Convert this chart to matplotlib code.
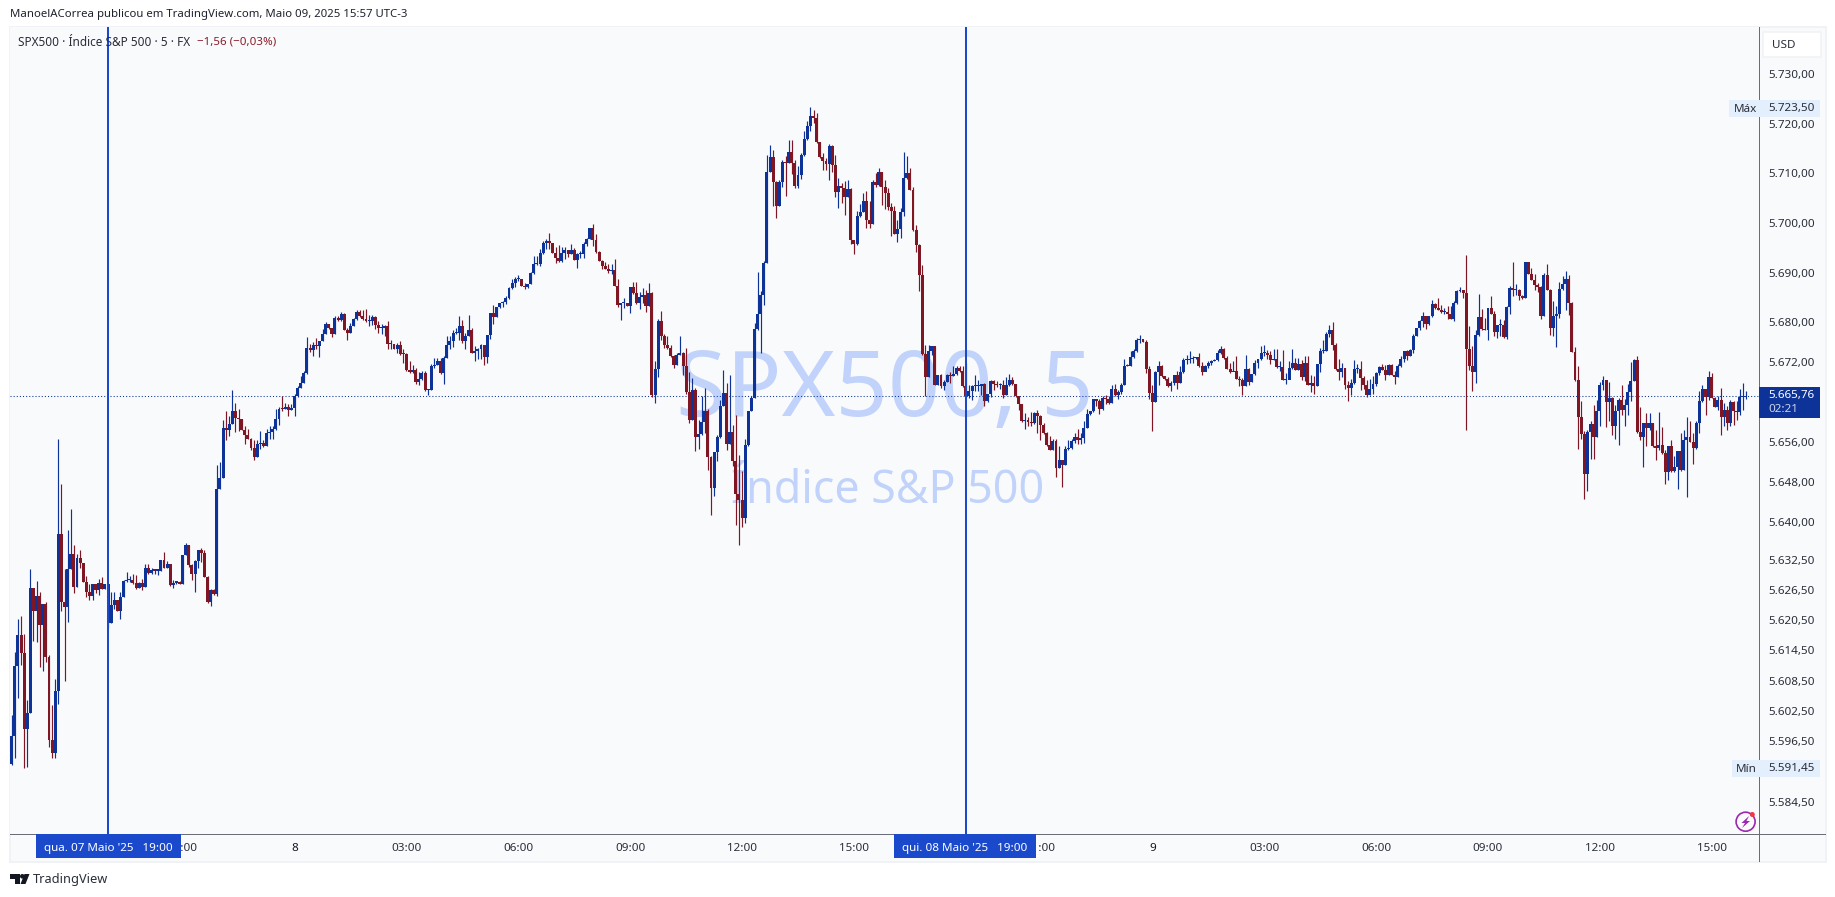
import matplotlib
matplotlib.use("Agg")
import matplotlib.pyplot as plt
from matplotlib.patches import Rectangle, FancyBboxPatch, Polygon, Ellipse
from matplotlib.ticker import NullLocator
import numpy as np

plt.rcParams["font.family"] = ["Noto Sans", "DejaVu Sans"]

# Fechamentos de cada vela de 5 minutos
closes = [
    5597.7,5611.7,5617.9,5614.4,5599.2,5602.4,5627.3,5622.8,5625.7,5620,
    5624.1,5613.6,5596.9,5594.4,5606.7,5638.2,5624.6,5623.6,5631.1,5634.1,
    5627.6,5633.3,5632.4,5628.5,5626.6,5625.8,5628.1,5626.9,5628.4,5627.2,
    5628.1,5620.4,5623.9,5625,5622.8,5625.6,5628.7,5628.9,5628.9,5628.4,
    5627.4,5628.4,5627.5,5631.3,5630.4,5630.9,5630.8,5630.8,5632.9,5631.4,
    5632.1,5627.9,5628.4,5628.6,5628.2,5634,5635.9,5631.9,5630.1,5632.8,
    5634.9,5634.4,5629.6,5624.6,5626.9,5626.2,5647.1,5649.2,5659.3,5658.9,
    5660.1,5662.7,5661.2,5661.1,5658.9,5657.9,5657,5655.3,5653.5,5656.1,
    5656.2,5655.7,5658.2,5658.5,5659,5661,5663.1,5663,5663.4,5662.9,
    5663.3,5665.6,5667.3,5668.3,5670.3,5675.3,5674.9,5675.9,5675.6,5676.7,
    5678.1,5680.1,5679.2,5678.1,5681.3,5680.8,5682.1,5678.8,5678.2,5679.7,
    5681.1,5682.5,5681.6,5681.1,5680.6,5680.7,5681.5,5679.9,5679.2,5679.3,
    5679.7,5676,5676,5675.1,5675.9,5674.1,5674,5670.8,5670.4,5670.9,
    5668.4,5669,5670.3,5666.8,5666.9,5671.7,5671.8,5672.6,5670.2,5673.2,
    5675.9,5676.7,5678.3,5678.3,5679.7,5676.7,5677.7,5678.9,5674.3,5674.6,
    5675,5675.8,5673.5,5677.9,5682.3,5681.5,5683.4,5684.2,5684.4,5685.3,
    5687.3,5688.3,5689,5689,5687.6,5687.4,5688.1,5690.3,5692.1,5692.1,
    5694.3,5696.3,5696.7,5696.2,5694.3,5693.3,5692.6,5694.3,5694.9,5694.1,
    5694.9,5692.9,5694.1,5694.1,5696.1,5697.1,5699.3,5696.9,5694.5,5692.7,
    5691.7,5691.1,5690.7,5690.9,5687.7,5683.9,5684.2,5684.2,5683.7,5687.5,
    5686.3,5684.3,5685.5,5685.9,5683.7,5686.3,5665.9,5671,5680.7,5677.6,
    5675.9,5675.2,5673.6,5671.8,5673.9,5674.2,5671.6,5666.4,5660.9,5666.9,
    5657.4,5658,5660.5,5662.7,5653.4,5647.4,5654.4,5657.4,5663.7,5666.2,
    5656,5658.4,5652.6,5646.2,5644.9,5641.3,5655.9,5662.7,5665.2,5679,
    5682.1,5685.8,5692.2,5710.5,5713.5,5708.4,5703.6,5708.5,5712.4,5712.3,
    5714.5,5712.2,5707.7,5709.9,5713.8,5717,5719.7,5721.6,5721.2,5716.4,
    5713.4,5712.7,5712.1,5715.7,5711.9,5706.4,5707.7,5707.2,5705.4,5707.1,
    5696.8,5696.1,5701.6,5702.4,5704.7,5700.8,5700.1,5708.4,5707.9,5710.5,
    5707.4,5706.2,5703.4,5702.6,5698.1,5699,5702.5,5709.2,5710.2,5706.9,
    5698.9,5695.8,5689.8,5674,5669.4,5674.6,5675.6,5667.9,5669.8,5667.6,
    5668.5,5669.9,5669.7,5670,5671.3,5670.6,5667.6,5665.6,5666.7,5667.7,
    5667.7,5667.7,5668.1,5664.6,5666.1,5668.7,5668,5667.8,5667.9,5665.9,
    5667.8,5668.9,5668,5665.6,5664,5660.6,5660.8,5660.4,5660.2,5662.2,
    5661.6,5659.9,5658.2,5655.8,5654.9,5656.7,5651.2,5652.9,5651.8,5655,
    5655.3,5656.7,5657.5,5656.9,5657.2,5659.3,5662.1,5662.6,5665.1,5664.7,
    5663,5665.3,5665.1,5664.2,5667.1,5665.9,5666.4,5667.9,5671.7,5671.6,
    5673.4,5674.7,5676.9,5677,5676.5,5671.1,5666.2,5664.5,5670.4,5671.7,
    5669.6,5669,5667.6,5668.2,5669.8,5668.2,5670.4,5672.8,5672.9,5673,
    5673.2,5673.4,5671.6,5670.4,5671.7,5672.2,5672.7,5672.9,5674.2,5675.1,
    5673.2,5671.1,5670.4,5670.7,5669.1,5668.9,5667.6,5671,5668.4,5670,
    5672.2,5673,5674.2,5674.3,5673.8,5672.9,5673.1,5671.4,5671.4,5668.9,
    5668.9,5671.2,5672.2,5670.9,5672.1,5669.4,5672.2,5667.8,5668.2,5667.6,
    5672,5674.7,5674.7,5678.1,5678.9,5675.9,5671.1,5670.4,5671.2,5667.9,
    5667.2,5668.2,5671,5671,5669.3,5667.9,5665.9,5667.1,5668.1,5670.3,
    5671.5,5670.9,5669.9,5671.9,5669.9,5669.5,5671.7,5673.1,5674.7,5673.7,
    5674.9,5677.7,5679.3,5680.7,5681.7,5680.1,5681.7,5684.1,5683.3,5682.9,
    5682.5,5682.5,5682.1,5681.1,5684.3,5686.7,5686.8,5686.2,5675.1,5671.6,
    5670.5,5677.9,5681.5,5679.1,5678.9,5683.3,5682.1,5678.5,5679.9,5679.9,
    5677.5,5683.5,5687.3,5686.9,5686.9,5685.7,5685.3,5692.4,5690.1,5688.9,
    5687.9,5687.4,5681.7,5689.9,5686.9,5679.3,5681.7,5682.1,5687.1,5688.1,
    5689.1,5684.3,5674.5,5668.9,5661.5,5658.1,5650.1,5658.5,5660.1,5657.5,
    5662.7,5667.9,5668.9,5664.4,5665.2,5659.6,5662.7,5664.9,5662.9,5663.9,
    5666.5,5668.7,5672.9,5658.4,5657.4,5660.3,5659.3,5660.3,5655.6,5655.2,
    5655.9,5654.3,5650.5,5655.7,5650.7,5651.5,5654.7,5650.9,5656.9,5657.5,
    5656.5,5655.3,5660.3,5664.7,5667.1,5665.5,5669.5,5665.3,5663.5,5664.9,
    5661.5,5662.9,5660.3,5664.5,5662.7,5662.5,5665.5,5665.5,5665.76,
]

highs = [
    5601.9,5614.6,5621.1,5621.7,5618.1,5604.9,5631.2,5627.3,5628.7,5626.5,
    5624.1,5624.5,5613.9,5603.9,5609.2,5657.1,5648.1,5631.2,5638.9,5643.1,
    5635.9,5634.2,5635,5632.4,5629.7,5628.1,5628.1,5628.2,5629.2,5629.6,
    5628.1,5628.1,5626.5,5626.5,5625,5626.5,5628.9,5630.5,5629.8,5630.1,
    5629.9,5628.5,5629.2,5632.1,5632.2,5631.3,5631.2,5631.2,5632.9,5634.5,
    5632.8,5632.1,5629,5628.6,5628.8,5634,5636.4,5635.9,5632.1,5632.9,
    5635,5635.4,5635,5629.7,5627.2,5627.2,5651.9,5652.4,5660.9,5662.7,
    5661.7,5666.9,5664.3,5663.1,5661.1,5659.7,5659,5657.3,5656.8,5656.9,
    5658.7,5656.9,5659,5659.7,5659.7,5663.1,5663.4,5665.7,5664.2,5664.1,
    5664.1,5666.1,5667.7,5669.7,5670.7,5677.5,5676.1,5676.4,5677.3,5676.7,
    5679.1,5680.4,5680.1,5679.2,5681.7,5681.7,5682.4,5682.2,5679.2,5680.3,
    5681.2,5682.9,5682.9,5682.9,5683.1,5681.9,5681.9,5681.6,5680.6,5680.1,
    5679.8,5680.7,5676.9,5676.1,5676.2,5676.7,5675.1,5674.2,5672.6,5671.9,
    5671.2,5670.4,5670.6,5670.6,5667,5672,5673.2,5673.2,5673.2,5673.7,
    5677.7,5677.7,5678.9,5679.3,5681.7,5680.9,5678.2,5681.9,5679.3,5675.7,
    5675.2,5676,5675.8,5677.9,5682.3,5683.9,5683.4,5684.3,5684.7,5685.7,
    5687.5,5689.1,5689.4,5689.9,5689,5688.2,5688.1,5690.5,5693.6,5693.6,
    5695,5696.6,5697.1,5698.3,5696.3,5695.5,5695.9,5695.5,5695.5,5694.9,
    5696.1,5695.2,5694.2,5694.6,5696.5,5697.2,5699.3,5700.1,5698.1,5694.7,
    5692.9,5692.5,5692.1,5692.1,5693.1,5689.1,5684.2,5685.3,5684.3,5687.5,
    5688.5,5688.5,5686.5,5687.3,5686.9,5688.3,5686.5,5672.6,5681,5682.7,
    5678,5677.6,5675.9,5673.8,5674.2,5677.7,5674.4,5675.2,5670.5,5669.2,
    5667.2,5660.9,5665.6,5667.2,5663.1,5653.6,5654.4,5657.9,5664.9,5670.9,
    5668.2,5669.9,5659.8,5661.9,5653.9,5650.6,5657,5662.7,5665.6,5680.2,
    5690.4,5686.6,5692.7,5713.9,5715.9,5714.9,5708.6,5708.9,5712.9,5713.6,
    5716.9,5716.9,5712.9,5711.7,5714.2,5718.6,5720.6,5723.5,5722.9,5722.2,
    5716.5,5714.2,5713.2,5716.1,5715.9,5713.8,5709.2,5708.2,5708.6,5708.8,
    5707.2,5696.8,5702.6,5704.1,5706.2,5706.6,5704.6,5708.9,5710.2,5711.2,
    5710.5,5708.9,5707.2,5704.2,5703.6,5700.9,5703.2,5714.4,5713.7,5711.2,
    5707.4,5699.9,5696.1,5691.9,5675.9,5675.9,5675.7,5675.7,5669.9,5670,
    5668.9,5670.1,5670.4,5671.7,5671.7,5671.7,5671.6,5672.2,5667.9,5667.9,
    5669.9,5668.9,5668.1,5668.2,5666.1,5668.9,5668.9,5668.6,5668.2,5668.9,
    5669.4,5670.1,5669.4,5668.1,5665.7,5664.1,5662.2,5661.4,5662.5,5662.5,
    5662.8,5661.9,5660.2,5658.4,5657.7,5657,5657,5655.6,5652.9,5655.7,
    5656.9,5657,5658.2,5659.1,5658.2,5660.6,5663,5662.6,5665.1,5665.1,
    5665,5665.7,5665.9,5665.7,5667.8,5668,5666.9,5668.2,5673.1,5672.1,
    5674.6,5675,5677.2,5677.9,5676.9,5676.9,5671.7,5667.9,5670.6,5672.6,
    5671.9,5669.7,5669.4,5668.6,5669.9,5670.6,5671.7,5673.2,5673.8,5674.7,
    5673.7,5673.4,5674.2,5672.4,5671.9,5672.7,5672.8,5673.1,5674.9,5675.6,
    5675.2,5673.6,5672.2,5672.6,5673.7,5669.7,5669.2,5673.9,5671.2,5670,
    5672.9,5673,5675.7,5675.9,5674.9,5674.6,5675,5675,5672.6,5674.9,
    5670.2,5672.6,5675,5673.2,5673.2,5672.9,5673.7,5673.7,5669.9,5669.7,
    5672,5675.2,5676.9,5678.4,5679.9,5680.5,5676.2,5673.1,5672.2,5671.2,
    5668.7,5669,5672.9,5672.1,5672.6,5669.7,5668.9,5669.1,5669.6,5670.4,
    5671.7,5672.1,5671.9,5672.1,5672,5670.6,5672.1,5673.7,5674.7,5674.9,
    5675.1,5678.1,5679.3,5680.9,5682.5,5681.7,5681.7,5684.9,5684.2,5685.3,
    5683.9,5683.2,5683.7,5683.6,5684.6,5686.9,5687.5,5686.9,5693.9,5679.7,
    5675.7,5678.9,5686.1,5683,5681.3,5683.3,5685.7,5682.6,5679.9,5681.1,
    5680.9,5683.7,5687.6,5692.5,5688.1,5687,5685.9,5692.5,5692.4,5691.2,
    5690.1,5688.2,5687.6,5690.2,5692.1,5687.1,5684.7,5683.7,5688.4,5689.7,
    5690.7,5689.9,5684.5,5675.4,5671.6,5664.7,5658.7,5658.9,5660.7,5663.9,
    5664.9,5668.4,5669.7,5668.9,5668.5,5665.4,5663.8,5665.2,5667.9,5665,
    5668,5672.5,5673.1,5673.7,5663.5,5660.3,5662.3,5662.3,5660.3,5658.9,
    5662.5,5659.5,5654.9,5655.7,5656.9,5653.7,5654.7,5658.3,5658.9,5661.5,
    5660.7,5658.3,5660.7,5666.6,5667.9,5667.1,5670.7,5670.3,5665.5,5665.6,
    5667.3,5664.2,5663.7,5664.8,5664.7,5664.6,5667,5668.3,5666.7,
]

lows = [
    5591.9,5593.4,5605.4,5612,5591.4,5591.6,5602.4,5616.7,5616.6,5611.6,
    5610.8,5612.6,5595.6,5593.4,5593.4,5604.2,5622.8,5608.7,5620.6,5631.1,
    5626.4,5627.6,5631.4,5628.5,5625.6,5624.9,5624.9,5626.4,5625.9,5627.2,
    5627.2,5619.4,5620.4,5623.2,5622.8,5621.1,5625.6,5628.6,5628.6,5628.2,
    5627.2,5627.4,5626.9,5627.5,5630.2,5630.2,5630.1,5629.9,5630.8,5631.4,
    5631.4,5627.7,5627.4,5628.2,5628.2,5628.2,5634,5631.6,5629,5626.6,
    5631.3,5632.6,5629.6,5624.4,5623.7,5625.9,5625.8,5647.1,5649.2,5656.9,
    5657.7,5660.1,5658.4,5658.7,5658.8,5656.1,5657,5654.8,5652.9,5653.5,
    5655.1,5655.4,5655.7,5657,5657,5658.9,5659.9,5662.7,5663,5661.7,
    5662.8,5661.7,5665.5,5667.3,5668.3,5670.1,5674.4,5673.7,5675,5673.4,
    5676.7,5678,5679.1,5677.4,5678.1,5680.7,5680.6,5678.8,5676.9,5678.2,
    5679.6,5680.8,5681.4,5680.9,5680.4,5679.7,5679.9,5679.1,5678.2,5678.1,
    5677.6,5675.1,5675.1,5675,5674.2,5673.9,5672.3,5670.6,5670.3,5670.2,
    5668.1,5667.8,5668.9,5666.7,5665.8,5666.9,5671.2,5671.8,5670.1,5668.1,
    5673.2,5675.1,5675.5,5678.1,5676.9,5676.3,5675.1,5677.6,5674.2,5672.7,
    5673.1,5673.1,5671.9,5672.3,5677.1,5680.1,5681.5,5683.2,5683.4,5684.1,
    5685.1,5687.1,5687.4,5688.6,5687.6,5687.1,5687.3,5688,5690.1,5691.9,
    5691.6,5694.1,5695.1,5695.1,5694.2,5692.3,5692.5,5692.5,5693.1,5693.4,
    5694.1,5692.9,5691.3,5693.2,5693.3,5695.6,5697,5695.6,5694.3,5692.6,
    5691.1,5691,5690.2,5690.1,5687.7,5683.4,5680.9,5683.2,5683.6,5682.3,
    5686.1,5684.1,5683.1,5684.2,5682.5,5683.7,5665.4,5664.2,5669.4,5676.8,
    5675.2,5675,5673.4,5671.2,5671.8,5673.9,5669.9,5666.1,5660.2,5660.9,
    5654.6,5655,5657.9,5658.2,5650.8,5642,5645.8,5652.6,5657.2,5663.6,
    5654.9,5656,5651.7,5639.9,5636,5639.6,5640.4,5655.7,5662.6,5665.2,
    5678.9,5674.2,5683.9,5692.2,5710.4,5703.6,5701.2,5703.6,5707.4,5705.7,
    5712.3,5710,5707.2,5707.2,5709,5713.7,5716.9,5718.6,5720.2,5716.2,
    5713.2,5710.8,5710.9,5708.9,5710.4,5705.4,5703.2,5704.2,5701.8,5705.4,
    5696.1,5694.1,5695.9,5701.4,5702.4,5699.2,5699.2,5700.1,5707.4,5707.6,
    5703.9,5703,5702.9,5697.6,5698.1,5696.4,5697.2,5701.6,5709.1,5706.9,
    5698.6,5694.4,5686.7,5673.9,5665.6,5669.4,5673.8,5667.9,5667.9,5667.2,
    5666.9,5668.5,5668.2,5669.7,5669.9,5670.4,5667.4,5665.4,5665.2,5664.9,
    5666.6,5666.7,5665.9,5663.7,5664.4,5665.4,5666.8,5667.4,5667.1,5665.2,
    5665.9,5667.6,5667.8,5665.4,5662.8,5660.4,5659.1,5659.7,5659.7,5660.1,
    5658.2,5656.8,5658,5655.7,5654.8,5654.8,5649.5,5651.2,5647.6,5651.8,
    5654.9,5655.1,5656.2,5656.1,5656.1,5656.2,5659.2,5661.9,5662.5,5663.6,
    5662.1,5662.9,5664.1,5664.1,5664.2,5665.7,5665.1,5666.1,5667.8,5671.6,
    5671.6,5673.2,5674.5,5676.2,5676.5,5670.2,5665.1,5658.7,5664.5,5667.8,
    5669.4,5668.8,5667.4,5666.6,5667.8,5667.1,5668.2,5670.2,5672.1,5672.2,
    5672.2,5673,5671.4,5669.9,5670.6,5671.2,5671.8,5672.6,5672.6,5674.1,
    5673,5671,5670.2,5670.7,5669,5667.7,5665.8,5667.6,5667.9,5668.4,
    5669.9,5671.2,5672.8,5673.6,5673.1,5672,5672.9,5671.2,5670.7,5668.8,
    5668.1,5669.1,5671.1,5670.9,5670.9,5668.8,5668.6,5667.8,5666.4,5666,
    5667.6,5670.4,5674.2,5674.6,5677.4,5674.9,5670.9,5668.9,5669.4,5667.1,
    5664.7,5665.8,5668.1,5670.2,5666.9,5667,5665.4,5665.9,5666.1,5667.7,
    5669.9,5670.8,5668.9,5669.9,5669.8,5668.1,5669.4,5671.5,5672.4,5672.9,
    5673.7,5674.3,5677.6,5678.9,5679.4,5679.1,5679.9,5681.4,5683.1,5682.8,
    5682.3,5682.1,5681.1,5681,5680.7,5684.1,5686.4,5685.2,5658.9,5670.9,
    5666.7,5668.3,5677.7,5678.9,5678.8,5676.9,5682,5677.7,5677.3,5677.6,
    5677.2,5677.1,5682.1,5685.6,5685.9,5684.9,5685,5685.3,5690,5688.8,
    5686.9,5686.4,5681.1,5681.7,5686.8,5677.9,5677.6,5675.5,5681.2,5686.9,
    5682.8,5681.8,5674.4,5668.6,5655.1,5657.1,5645.1,5646.7,5653.1,5653.1,
    5657.5,5659.7,5666.9,5659.4,5660.7,5657.9,5657.1,5655.9,5661.9,5659.6,
    5661.9,5664.7,5668.6,5658.2,5656.8,5651.5,5655.7,5658.9,5655.4,5652.9,
    5654.9,5654.1,5648.1,5648.9,5650.5,5650.4,5647.1,5650.7,5650.9,5645.5,
    5656.5,5652.1,5655.1,5658.2,5664.5,5661.9,5664.9,5665.2,5663.4,5662.9,
    5657.9,5659.7,5658.9,5659.6,5659.9,5660.9,5661.9,5662.9,5665,
]

first_open = 5592.1
last_price = 5665.76

price_ticks = [5730, 5720, 5710, 5700, 5690, 5680, 5672, 5656, 5648, 5640, 5632.5,
               5626.5, 5620.5, 5614.5, 5608.5, 5602.5, 5596.5, 5584.5]
price_labels = ["5.730,00", "5.720,00", "5.710,00", "5.700,00", "5.690,00", "5.680,00",
                "5.672,00", "5.656,00", "5.648,00", "5.640,00", "5.632,50", "5.626,50",
                "5.620,50", "5.614,50", "5.608,50", "5.602,50", "5.596,50", "5.584,50"]

time_ticks = [55, 91, 127, 163, 199, 235, 271, 331, 367, 403, 439, 475, 511, 547]
time_labels = ["21:00", "8", "03:00", "06:00", "09:00", "12:00", "15:00",
               "21:00", "9", "03:00", "06:00", "09:00", "12:00", "15:00"]
marked_bars = [31, 307]
marked_labels = ["qua. 07 Maio '25   19:00", "qui. 08 Maio '25   19:00"]

W, H = 1835, 897
BLUE = "#0d3399"
RED = "#7f1624"
LINE = "#1a4acb"
PANE = "#f9fafc"
TEXT = "#2a2e39"
GREY = "#6a6d78"
MARK = "#c1d3fb"


def to_log(p):
    # o eixo original e logaritmico; as leituras acima foram feitas como se fosse linear
    return 5730 * np.exp((np.asarray(p, dtype=float) - 5730) / 5656.6)


closes = to_log(closes)
highs = to_log(highs)
lows = to_log(lows)
opens = np.r_[to_log(first_open), closes[:-1]]
idx = np.arange(len(closes))
assert len(highs) == len(closes) == len(lows)


def fx(x):
    return x / W


def fy(y):
    return 1 - y / H


def box(x0, y0, x1, y1, color, z=1):
    fig.add_artist(Rectangle((fx(x0), fy(y1)), (x1 - x0) / W, (y1 - y0) / H, transform=fig.transFigure,
                             facecolor=color, edgecolor="none", zorder=z))


def label(x, y, s, color=TEXT, size=8.4, ha="left", va="center", z=4, **kw):
    fig.text(fx(x), fy(y), s, color=color, fontsize=size, ha=ha, va=va, zorder=z, **kw)


fig = plt.figure(figsize=(W / 100, H / 100), dpi=100, facecolor="white")

# moldura do grafico
box(9, 26, 1827, 863, "#f0f2f5", z=-2)
box(11, 28, 1825, 861, PANE, z=-1)

ax = fig.add_axes([fx(10), fy(834), (1759 - 10) / W, (834 - 27) / H])
ax.set_facecolor(PANE)
ax.set_yscale("log")
ax.set_xlim(-0.55, 562.2)
ax.set_ylim(5578.2, 5739.6)
for s in ax.spines.values():
    s.set_visible(False)

# marca d'agua atras das velas
ax.text(fx(885), fy(416), "SPX500, 5", transform=fig.transFigure, color=MARK, fontsize=66,
        ha="center", va="baseline", zorder=0.5)
ax.text(fx(888), fy(503), "Índice S&P 500", transform=fig.transFigure, color=MARK, fontsize=32.2,
        ha="center", va="baseline", zorder=0.5)

# velas
up = closes >= opens
colors = np.where(up, BLUE, RED)
ax.vlines(idx, lows, highs, colors=colors, linewidth=0.85, zorder=2)
heights = np.maximum(np.abs(closes - opens), 0.25)
ax.bar(idx, heights, bottom=np.minimum(opens, closes), width=0.95, color=colors, linewidth=0, zorder=3)

# linhas verticais e preco atual
for b in marked_bars:
    ax.axvline(b, color=LINE, linewidth=1.45, zorder=4)
ax.axhline(to_log(last_price), color=BLUE, linewidth=0.75, linestyle=(0, (1, 2)), zorder=1.5)

# eixos
ax.yaxis.tick_right()
ax.yaxis.set_minor_locator(NullLocator())
ax.set_yticks(price_ticks, price_labels)
ax.tick_params(axis="y", length=0, pad=6.4, labelsize=8.4, labelcolor=TEXT)
ax.set_xticks(time_ticks, time_labels)
ax.tick_params(axis="x", length=0, pad=6.5, labelsize=8.4, labelcolor=TEXT)
for t in ax.get_xticklabels():
    if t.get_text() in ("8", "9"):
        t.set_fontweight("bold")
        t.set_color("#131722")

box(10, 833.5, 1826, 834.6, GREY, z=2)
box(1758.5, 27, 1759.6, 862, GREY, z=2)

# cabecalho
label(10, 15, "ManoelACorrea publicou em TradingView.com, Maio 09, 2025 15:57 UTC-3", color="#1e222d", size=8.2)
label(18, 42, "SPX500 · Índice S&P 500 · 5 · FX", color="#2a2e39", size=8.5)
label(197, 42, "−1,56 (−0,03%)", color="#8a1c2a", size=8.3)

# USD
fig.add_artist(FancyBboxPatch((fx(1763), fy(57)), 58 / W, 25 / H, boxstyle="round,pad=0", transform=fig.transFigure,
                              facecolor="white", edgecolor="#f0f2f5", linewidth=1.2, zorder=2))
label(1772, 45, "USD", size=8.4)

# etiquetas de maximo, minimo e ultimo preco
box(1729, 100, 1820, 117, "#e3effd", z=2)
label(1734, 109.5, "Máx", size=8.4)
label(1768, 108, "5.723,50", size=8.4)
box(1732, 760, 1820, 777, "#e3effd", z=2)
label(1736, 769, "Mín", size=8.4)
label(1768, 768, "5.591,45", size=8.4)
box(1759, 387, 1820, 418, BLUE, z=2)
label(1768, 395.5, "5.665,76", color="white", size=8.4, fontweight="bold")
label(1768, 409.5, "02:21", color="#c9d3ec", size=8.4)

# etiquetas de data
label_spans = [(36, 181), (894, 1036)]
for (x0, x1), s in zip(label_spans, marked_labels):
    box(x0, 834, x1, 858, LINE, z=2.5)
    label((x0 + x1) / 2, 848.5, s, color="white", size=8.4, ha="center", fontweight="bold")

# logo TradingView
logo = [[(10, 874), (20, 874), (20, 884), (15, 884), (15, 879), (10, 879)],
        [(29.5, 874), (25.5, 884), (20.5, 884), (24.5, 874)]]
for pts in logo:
    fig.add_artist(Polygon([(fx(x), fy(y)) for x, y in pts], transform=fig.transFigure, facecolor="#131722",
                           edgecolor="none", zorder=3))
fig.add_artist(Ellipse((fx(22.3), fy(876.3)), 4.6 / W, 4.6 / H, transform=fig.transFigure, facecolor="#131722",
                       edgecolor="none", zorder=3))
label(33, 879, "TradingView", color="#2a2e39", size=9.2)

# icone de alerta
fig.add_artist(Ellipse((fx(1745.6), fy(821.7)), 19 / W, 19 / H, transform=fig.transFigure,
                       facecolor="none", edgecolor="#9c27b0", linewidth=1.2, zorder=3))
bolt = [(1749, 816), (1741.5, 823), (1745, 823), (1742, 828), (1750, 821), (1746.5, 821)]
fig.add_artist(Polygon([(fx(x), fy(y)) for x, y in bolt], transform=fig.transFigure, facecolor="#9c27b0",
                       edgecolor="none", zorder=3))
fig.add_artist(Ellipse((fx(1752.3), fy(814.5)), 5 / W, 5 / H, transform=fig.transFigure,
                       facecolor="#f23645", edgecolor="none", zorder=3.5))

fig.savefig("out.png", dpi=100, facecolor="white")
